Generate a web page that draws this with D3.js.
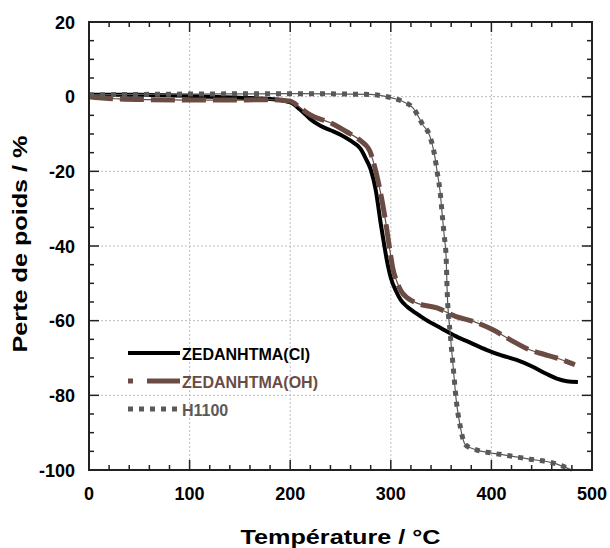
<!DOCTYPE html>
<html>
<head>
    <title>Perte de poids</title>
    <script src="https://d3js.org/d3.v7.min.js"></script>
    <style>
        body {
            margin: 0;
            padding: 0;
            font-family: "Liberation Sans", Arial, sans-serif;
            background: #fff;
        }
        svg { display: block; }
        .tick-label { font-size: 18px; font-weight: bold; fill: #000; }
        .axis-title { font-size: 21px; font-weight: bold; fill: #000; }
        .legend-text { font-size: 16px; font-weight: bold; }
    </style>
</head>
<body>
    <div id="vis-container"></div>

    <script>
        const width = 610;
        const height = 548;
        const margin = { top: 22, right: 18, bottom: 78, left: 89 };

        // Values
        const clTemp = [0, 20, 50, 80, 120, 150, 180, 200, 210, 220, 230, 240, 250, 260, 270, 275, 280, 285, 290, 293, 296, 300, 305, 310, 316, 325, 335, 350, 365, 380, 395, 410, 425, 440, 455, 465, 475, 486];
        const clLoss = [0.5, 0.5, 0.5, 0.4, 0, -0.3, -0.6, -1.5, -3.5, -6, -7.8, -9, -10.2, -11.8, -14, -16.5, -19.5, -25, -34, -39, -43.7, -48.5, -52, -54.5, -56.2, -58, -59.8, -62, -64.2, -66, -67.8, -69.3, -70.5, -72.2, -74.3, -75.5, -76.2, -76.4];

        const ohTemp = [0, 10, 30, 60, 100, 150, 180, 200, 210, 220, 240, 256, 269, 279, 286, 290, 294, 299, 302, 306, 310, 317, 326, 346, 365, 382, 402, 418, 438, 452, 465, 483];
        const ohLoss = [0, -0.3, -0.6, -0.8, -0.9, -0.9, -0.8, -1.2, -3, -4.9, -7, -9.4, -11.6, -14.5, -21, -26, -32, -41, -46, -49.5, -52, -54, -55.3, -56.6, -58.9, -60.2, -62.5, -65, -67.8, -69, -70, -71.8];

        const hTemp = [0, 50, 100, 200, 280, 292, 302, 312, 322, 332, 339, 344, 346, 349, 351, 353, 355, 356, 359, 362, 365, 369, 374, 385, 399, 418, 438, 461, 480];
        const hLoss = [0.5, 0.6, 0.7, 0.8, 0.6, 0.2, -0.4, -1.3, -3, -7.6, -10.7, -16.4, -20, -25.4, -31.2, -37, -43, -51.8, -63.3, -72.3, -81.2, -88.3, -93.2, -94.6, -95.4, -96.2, -97.1, -98.1, -100];

        const xTicks = [0, 100, 200, 300, 400, 500];
        const yTicks = [20, 0, -20, -40, -60, -80, -100];
        const seriesNames = ['ZEDANHTMA(Cl)', 'ZEDANHTMA(OH)', 'H1100'];

        const series = [
            { name: seriesNames[0], pts: clTemp.map((t, i) => [t, clLoss[i]]), color: '#000', width: 4, dash: null, thin: false },
            { name: seriesNames[1], pts: ohTemp.map((t, i) => [t, ohLoss[i]]), color: '#6a4c44', width: 5, dash: '24,7', thin: true },
            { name: seriesNames[2], pts: hTemp.map((t, i) => [t, hLoss[i]]), color: '#595959', width: 5, dash: '5,6', thin: true }
        ];

        const svg = d3.select('#vis-container')
            .append('svg')
            .attr('width', width)
            .attr('height', height);

        const x = d3.scaleLinear().domain([0, 500]).range([margin.left, width - margin.right]);
        const y = d3.scaleLinear().domain([-100, 20]).range([height - margin.bottom, margin.top]);

        const x0 = x.range()[0], x1 = x.range()[1];
        const y0 = y.range()[0], y1 = y.range()[1];

        // Grid (dotted)
        const grid = svg.append('g')
            .attr('stroke', '#bdbdbd')
            .attr('stroke-width', 1)
            .attr('stroke-dasharray', '2,2');
        grid.selectAll('.gx').data(xTicks.slice(1, -1)).join('line')
            .attr('x1', d => x(d)).attr('x2', d => x(d))
            .attr('y1', y1).attr('y2', y0);
        grid.selectAll('.gy').data(yTicks.slice(1, -1)).join('line')
            .attr('class', 'gy')
            .attr('x1', x0).attr('x2', x1)
            .attr('y1', d => y(d)).attr('y2', d => y(d));

        // Ticks on all four sides, pointing inward
        const minorX = d3.range(0, 501, 20).filter(d => d % 100 !== 0);
        const minorY = d3.range(-100, 21, 5).filter(d => d % 20 !== 0);
        const ticks = svg.append('g').attr('stroke', '#222').attr('stroke-width', 1.5);
        const tickX = (vals, len) => {
            ticks.append('g').selectAll('line').data(vals).join('line')
                .attr('x1', d => x(d)).attr('x2', d => x(d))
                .attr('y1', y0).attr('y2', y0 - len);
            ticks.append('g').selectAll('line').data(vals).join('line')
                .attr('x1', d => x(d)).attr('x2', d => x(d))
                .attr('y1', y1).attr('y2', y1 + len);
        };
        const tickY = (vals, len) => {
            ticks.append('g').selectAll('line').data(vals).join('line')
                .attr('x1', x0).attr('x2', x0 + len)
                .attr('y1', d => y(d)).attr('y2', d => y(d));
            ticks.append('g').selectAll('line').data(vals).join('line')
                .attr('x1', x1).attr('x2', x1 - len)
                .attr('y1', d => y(d)).attr('y2', d => y(d));
        };
        tickX(xTicks, 10);
        tickX(minorX, 5);
        tickY(yTicks, 10);
        tickY(minorY, 5);

        // Curves
        const line = d3.line()
            .x(d => x(d[0]))
            .y(d => y(d[1]))
            .curve(d3.curveMonotoneX);

        series.forEach(s => {
            if (s.thin) {
                svg.append('path')
                    .attr('d', line(s.pts))
                    .attr('fill', 'none')
                    .attr('stroke', s.color)
                    .attr('stroke-width', 1.2);
            }
            svg.append('path')
                .attr('d', line(s.pts))
                .attr('fill', 'none')
                .attr('stroke', s.color)
                .attr('stroke-width', s.width)
                .attr('stroke-dasharray', s.dash);
        });

        // Frame
        svg.append('rect')
            .attr('x', x0).attr('y', y1)
            .attr('width', x1 - x0).attr('height', y0 - y1)
            .attr('fill', 'none')
            .attr('stroke', '#222')
            .attr('stroke-width', 2);

        // Tick labels
        svg.append('g').selectAll('text').data(xTicks).join('text')
            .attr('class', 'tick-label')
            .attr('x', d => x(d))
            .attr('y', y0 + 30)
            .attr('text-anchor', 'middle')
            .text(d => d);
        svg.append('g').selectAll('text').data(yTicks).join('text')
            .attr('class', 'tick-label')
            .attr('x', x0 - 14)
            .attr('y', d => y(d) + 6.5)
            .attr('text-anchor', 'end')
            .text(d => d);

        // Axis titles (slightly stretched, as in the original)
        svg.append('text')
            .attr('class', 'axis-title')
            .attr('transform', `translate(${(x0 + x1) / 2},544) scale(1.2,1)`)
            .attr('text-anchor', 'middle')
            .text('Température / °C');
        svg.append('text')
            .attr('class', 'axis-title')
            .attr('transform', `translate(27,244) rotate(-90) scale(1.2,1)`)
            .attr('text-anchor', 'middle')
            .text('Perte de poids / %');

        // Legend
        const legend = svg.append('g').attr('transform', 'translate(128,353)');
        series.forEach((s, i) => {
            const g = legend.append('g').attr('transform', `translate(0,${i * 28})`);
            g.append('line')
                .attr('x1', 0).attr('x2', 52)
                .attr('stroke', s.color)
                .attr('stroke-width', s.width)
                .attr('stroke-dasharray', i === 1 ? '5,14,33' : s.dash);
            g.append('text')
                .attr('class', 'legend-text')
                .attr('x', 54)
                .attr('y', 6.5)
                .attr('fill', s.color)
                .text(s.name);
        });
    </script>
</body>
</html>
